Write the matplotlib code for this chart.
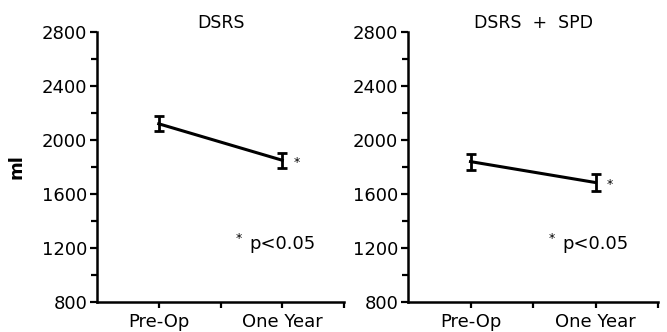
"""Pre-op vs one-year volume, DSRS and DSRS + SPD panels."""

import matplotlib.pyplot as plt
from matplotlib.ticker import MultipleLocator

plt.rcParams["font.family"] = ["DejaVu Sans"]

TIMEPOINTS = ["Pre-Op", "One Year"]
X_POS = [1, 3]

DSRS_MEAN = [2120, 1850]
DSRS_ERR = [55, 55]

SPD_MEAN = [1840, 1685]
SPD_ERR = [60, 60]

PANEL_TITLES = ["DSRS", "DSRS  +  SPD"]
Y_TICKS = [800, 1200, 1600, 2000, 2400, 2800]

fig = plt.figure(figsize=(6.67, 3.32), dpi=100)
ax_left = fig.add_axes([97 / 667, 30 / 332, 247 / 667, 270 / 332])
ax_right = fig.add_axes([408 / 667, 30 / 332, 250 / 667, 270 / 332])


def _panel(ax, means, errs, title, star_y, note_y):
    ax.errorbar(
        X_POS, means, yerr=errs,
        color="black", linewidth=2.2, capsize=3.5, capthick=2.0,
        elinewidth=2.0,
    )
    ax.set_xlim(0, 4)
    ax.set_ylim(800, 2800)
    ax.set_yticks(Y_TICKS)
    ax.yaxis.set_minor_locator(MultipleLocator(200))
    ax.set_xticks([1, 2, 3, 4])
    ax.set_xticklabels([TIMEPOINTS[0], "", TIMEPOINTS[1], ""])
    for side in ("top", "right"):
        ax.spines[side].set_visible(False)
    for side in ("left", "bottom"):
        ax.spines[side].set_linewidth(1.8)
    ax.tick_params(axis="both", which="both", direction="out",
                   width=1.6, labelsize=13)
    ax.tick_params(axis="y", which="major", length=5, pad=2)
    ax.tick_params(axis="y", which="minor", length=4)
    ax.tick_params(axis="x", length=4, pad=4)
    ax.set_title(title, fontsize=12.5, pad=3)
    ax.text(3.18, star_y, "*", fontsize=9, ha="left", va="center")
    ax.text(2.25, note_y, "*", fontsize=9, ha="left", va="center")
    ax.text(2.47, note_y - 40, "p<0.05", fontsize=13, ha="left",
            va="center")


_panel(ax_left, DSRS_MEAN, DSRS_ERR, PANEL_TITLES[0], 1830, 1270)
_panel(ax_right, SPD_MEAN, SPD_ERR, PANEL_TITLES[1], 1670, 1270)
ax_left.set_ylabel("ml", fontsize=13, fontweight="bold", labelpad=12)

fig.savefig("out.png", dpi=100)
